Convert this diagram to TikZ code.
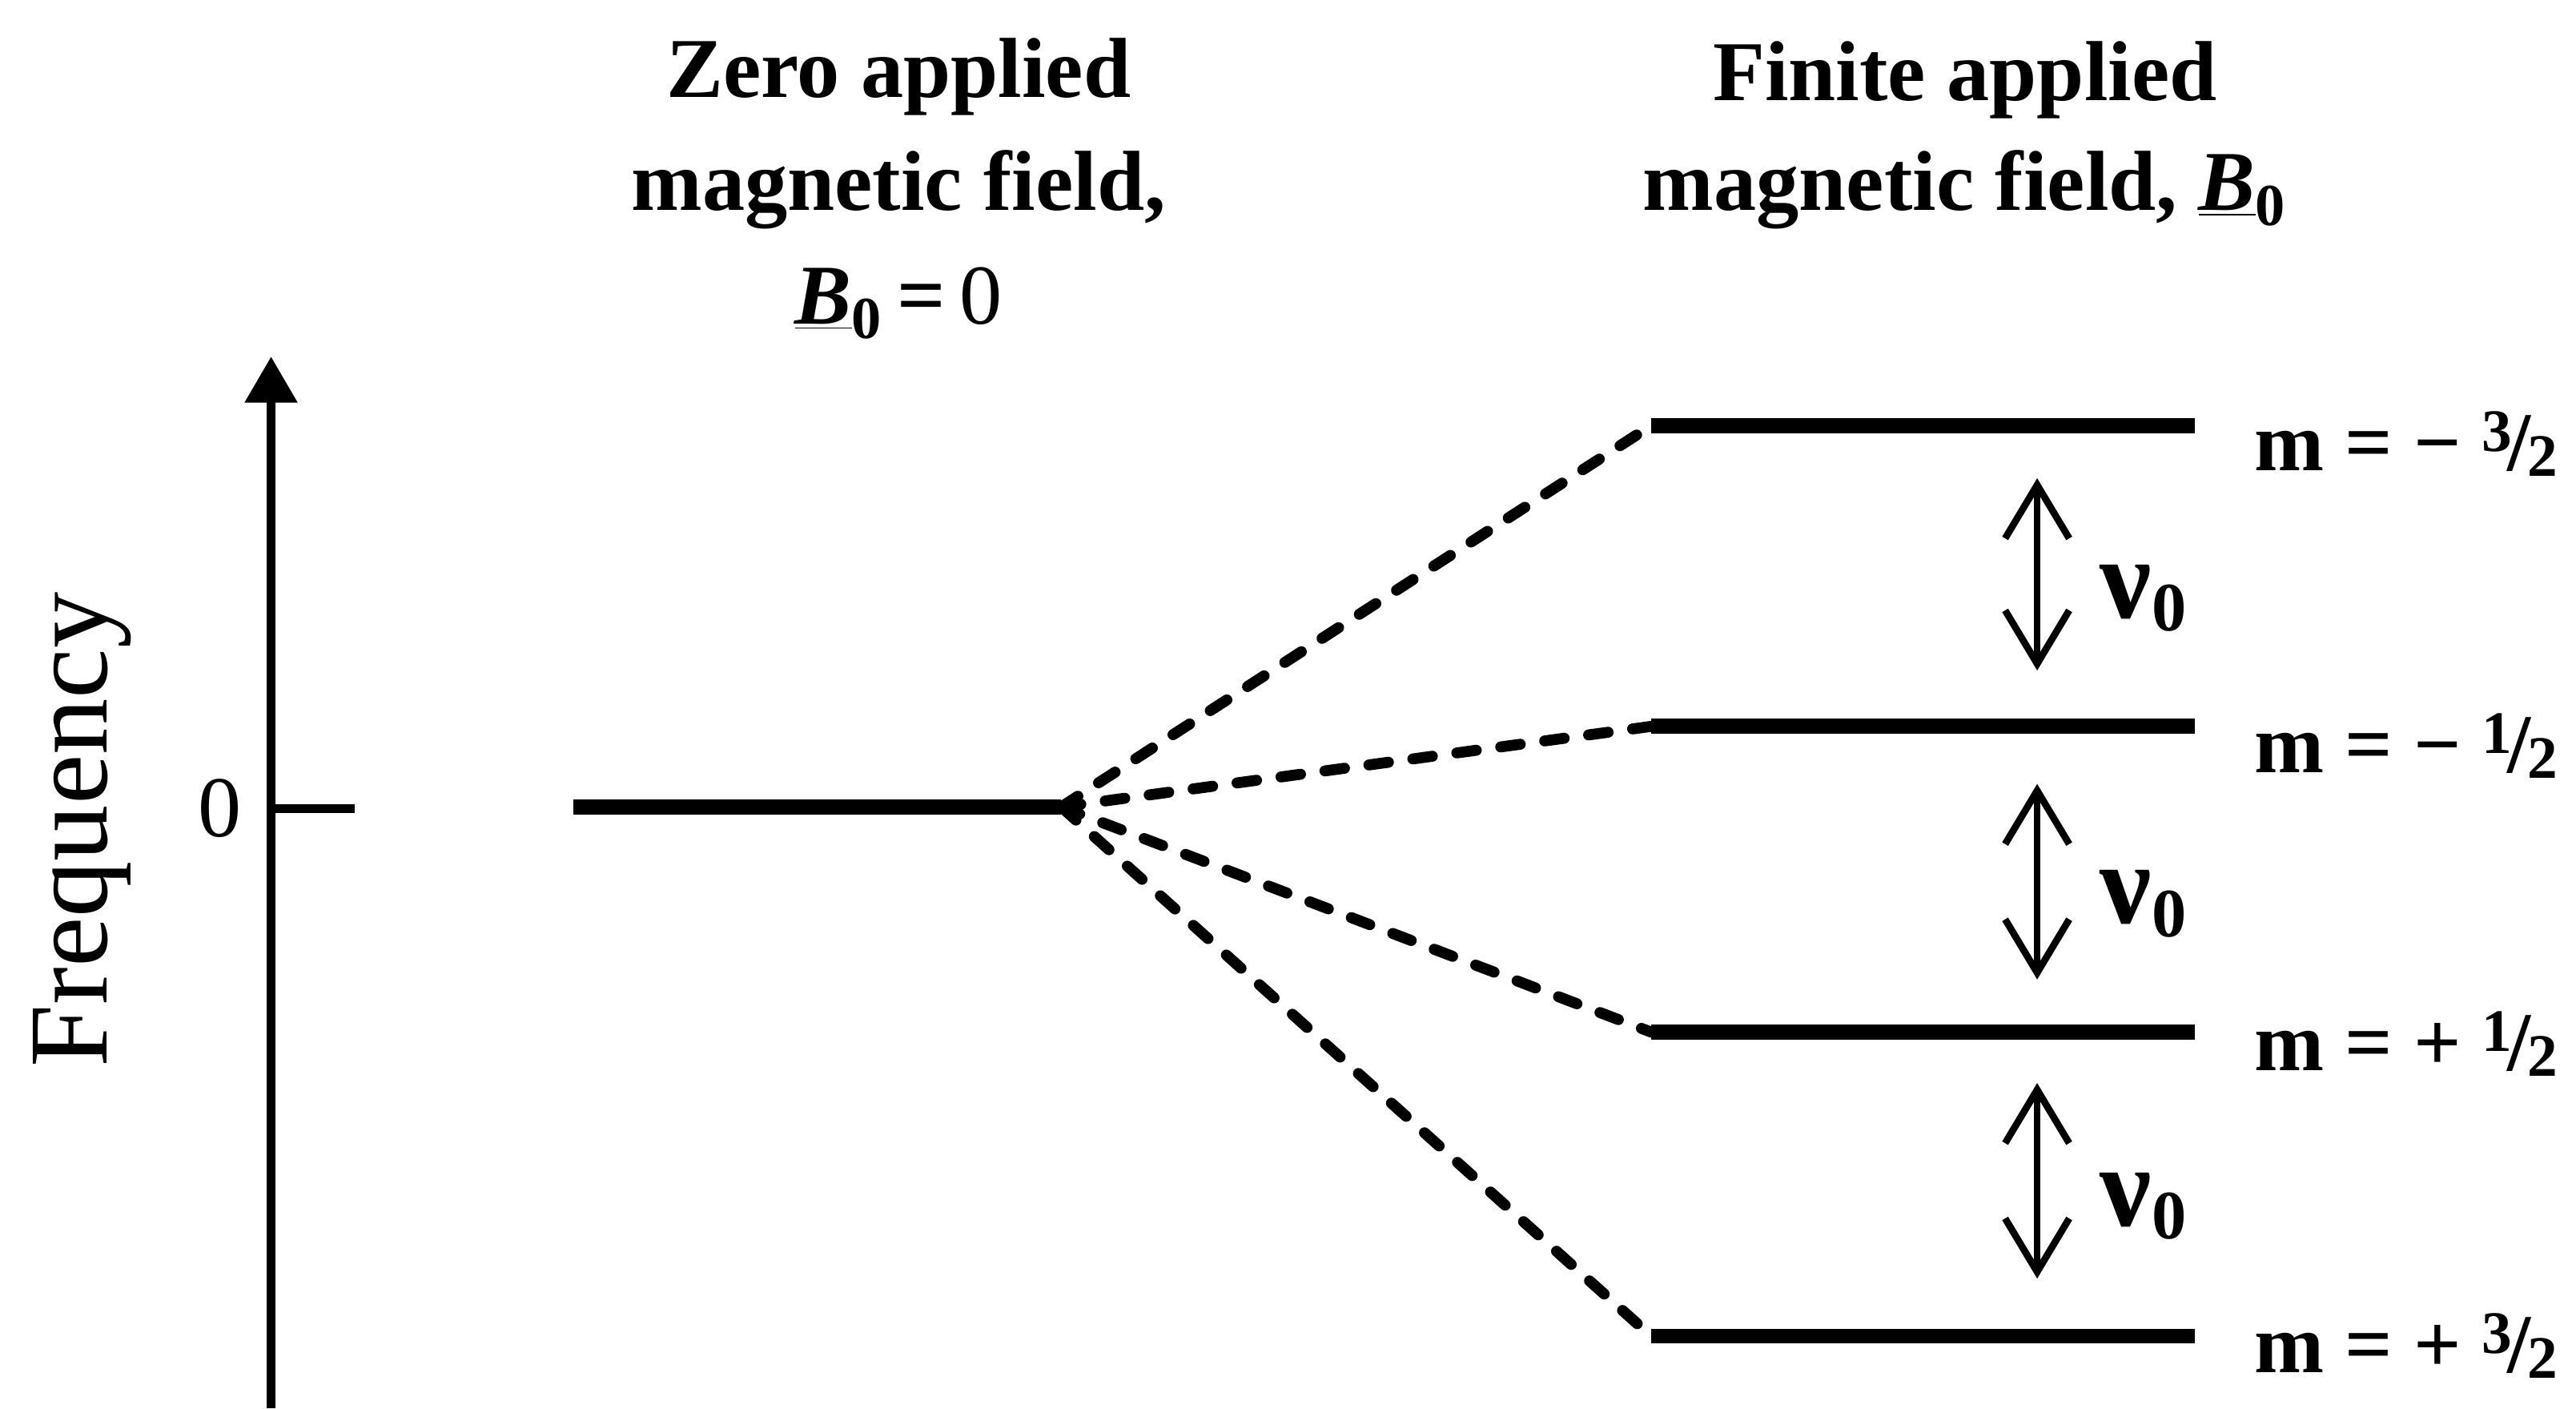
\documentclass[tikz,border=0pt]{standalone}
\usepackage{fontspec}
\setmainfont{Liberation Serif}
\usepackage{graphicx}
\usetikzlibrary{arrows.meta}
\newcommand\nfr[2]{\raisebox{.5ex}{\scalebox{.72}{#1}}\kern-.06em/\kern-.04em\raisebox{-.15ex}{\scalebox{.72}{#2}}}
\newcommand\Bvec{\underline{\textit{B}}\textsubscript{0}}
\newcommand\nuzero{{\fontsize{40}{40}\selectfont ν}\kern.02em\raisebox{-0.16cm}{\fontsize{24}{24}\selectfont 0}}
\begin{document}
\begin{tikzpicture}[x=0.02cm,y=-0.02cm,
  title/.style={anchor=base, font=\fontsize{29.5}{38}\selectfont\bfseries},
  axisline/.style={line width=2.9pt},
  level/.style={line width=5.2pt},
  split/.style={line width=3.8pt, line cap=round, dash pattern=on 0.24cm off 0.3cm},
  gap/.style={line width=2.4pt, {Straight Barb[length=0.65cm,width=0.78cm]}-{Straight Barb[length=0.65cm,width=0.78cm]}},
  mlab/.style={anchor=west, font=\fontsize{29}{29}\selectfont\bfseries},
  nulab/.style={anchor=west, font=\bfseries},
]
\useasboundingbox (0,0) rectangle (1568,857);

% axis
\coordinate (ax0) at (165,857);
\coordinate (ax1) at (165,217);
\draw[axisline, -{Triangle[length=0.56cm,width=0.62cm]}] (ax0) -- (ax1);
\coordinate (tk0) at (165,492);
\coordinate (tk1) at (216,492);
\draw[axisline] (tk0) -- (tk1);
\node (zero) at (134,492) {\fontsize{30}{30}\selectfont 0};
\node[rotate=90, anchor=base] (freq) at (65,505) {\fontsize{39}{39}\selectfont Frequency};

% titles
\node[title] (tz1) at (547,59) {Zero applied};
\node[title] (tz2) at (547,128) {magnetic field,};
\node[title] (tz3) at (547,197) {\Bvec\,=\,\mdseries 0};
\node[title] (tf1) at (1196,61) {Finite applied};
\node[title] (tf2) at (1196,128) {magnetic field, \Bvec};

% zero-field level
\coordinate (Za) at (349,491);
\coordinate (Zb) at (646,491);
\draw[level] (Za) -- (Zb);

% split levels
\foreach \n/\y in {1/259,2/442,3/628,4/813}{
  \coordinate (L\n a) at (1005,\y);
  \coordinate (L\n b) at (1336,\y);
  \draw[level] (L\n a) -- (L\n b);
  \draw[split] (Zb) -- (L\n a);
}

% gaps
\coordinate (G1a) at (1240,291); \coordinate (G1b) at (1240,408);
\coordinate (G2a) at (1240,477); \coordinate (G2b) at (1240,596);
\coordinate (G3a) at (1240,659); \coordinate (G3b) at (1240,778);
\draw[gap] (G1a) -- (G1b);
\draw[gap] (G2a) -- (G2b);
\draw[gap] (G3a) -- (G3b);
\node[nulab] (nu1) at (1272,364) {\nuzero};
\node[nulab] (nu2) at (1272,550) {\nuzero};
\node[nulab] (nu3) at (1272,734) {\nuzero};

% m labels
\node[mlab] (m1) at (1366,270) {m = − \nfr{3}{2}};
\node[mlab] (m2) at (1366,454) {m = − \nfr{1}{2}};
\node[mlab] (m3) at (1366,635) {m = + \nfr{1}{2}};
\node[mlab] (m4) at (1366,819) {m = + \nfr{3}{2}};
\end{tikzpicture}
\end{document}
